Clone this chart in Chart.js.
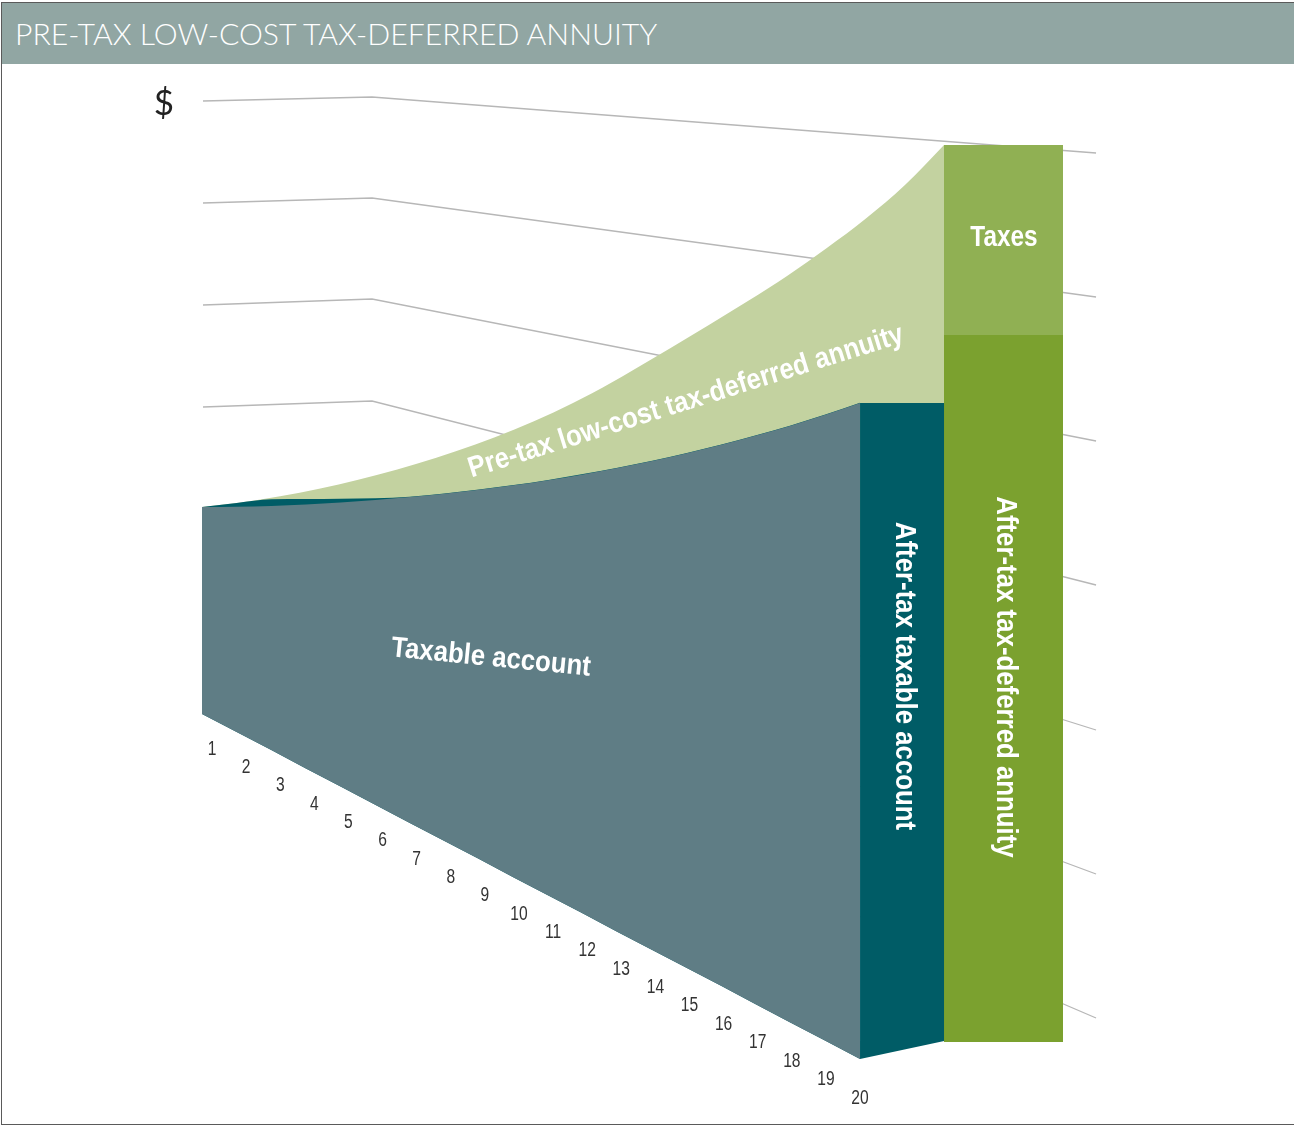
<!DOCTYPE html>
<html>
<head>
<meta charset="utf-8">
<title>Pre-tax low-cost tax-deferred annuity</title>
<style>
  html, body { margin: 0; padding: 0; background: #fff; }
  #figure { position: relative; width: 1294px; height: 1125px; overflow: hidden; }
  #frame { position: absolute; left: 1px; top: 2px; width: 1300px; height: 1121px; border: 1px solid #5a5a5a; box-sizing: content-box; pointer-events: none; }
  #banner { position: absolute; left: 2px; top: 3px; width: 1292px; height: 61px; background: #91a6a3; color: #fff;
            font: 300 30.2px Lato, "Open Sans", sans-serif; line-height: 60px; padding-left: 13px; box-sizing: border-box; white-space: nowrap; }
  canvas { position: absolute; left: 0; top: 0; }
</style>
<script src="https://cdn.jsdelivr.net/npm/chart.js@4"></script>
</head>
<body>
<div id="figure">
  <canvas id="chart" width="1294" height="1125"></canvas>
  <div id="banner">PRE-TAX LOW-COST TAX-DEFERRED ANNUITY</div>
  <div id="frame"></div>
</div>
<script>
// Years along the receding floor of the figure.
const years = [1,2,3,4,5,6,7,8,9,10,11,12,13,14,15,16,17,18,19,20];

// Account balance surfaces, one height per year.
const taxableFaceTop = [618,618.3,619,620.5,622.5,625,628,631.3,635.2,639.7,644.8,650.6,657,664,671.8,680.3,689.5,699.3,710.3,722];
const taxableRidge   = [618,622,625.7,626,626.3,626.7,628.2,631.6,635.5,640,645.1,650.9,657.3,664.3,672.1,680.6,689.8,699.6,710.6,722.3];
const annuityTop     = [618,622.5,628.8,636.3,645.2,655.5,667.2,680.5,695.5,712.5,732,754,777,800.5,824.5,849.5,877,906.5,940,980];
const floorLine      = [411,393,375,356.5,338.4,320.2,302,284,266,247.6,229.5,211.4,193,175,157,139,120.5,102.3,84.2,66];
const annuityUnderlay = 525;

// Year-20 outcome columns.
const taxableBarX      = [20, 22.43];
const taxableBarTop    = [722, 722];
const taxableBarBottom = [66, 84];
const annuityBarX      = [20, 23.05];
const grossTop         = [980, 980];
const afterTaxTop      = [790, 790];
const annuityBarBottom = [83, 83];

// Dollar grid on the back wall: left end, knee, right end.
const gridX     = [1.029, 5.909, 26.815];
const gridLeft  = [1024, 922, 820, 718, 616, 514, 412];
const gridKnee  = [1028, 927, 826, 724, 622, 520, 418];
const gridRight = [972, 828, 684, 540, 395, 251, 107];

const pts = (xs, ys) => xs.map((x, i) => ({ x, y: ys[i] }));
const area = (data, color, fill, xAxisID = 'x', smooth = false) => ({
  data, fill, xAxisID, backgroundColor: color, borderWidth: 0, pointRadius: 0,
  cubicInterpolationMode: smooth ? 'monotone' : 'default', tension: 0
});

const datasets = [
  area(pts(years, taxableFaceTop), '#5f7d85', { target: 1 }, 'x', true),
  area(pts(years, floorLine), 'transparent', false),
  area(pts(years, taxableRidge), '#005c66', { target: 1 }, 'x', true),
  area(pts(taxableBarX, taxableBarTop), '#005c66', { target: 4 }),
  area(pts(taxableBarX, taxableBarBottom), 'transparent', false),
  area(pts(years, annuityTop), '#c3d2a0', { value: annuityUnderlay }, 'xAnnuity', true),
  area(pts(annuityBarX, grossTop), '#90b053', { target: 7 }, 'xAnnuity'),
  area(pts(annuityBarX, afterTaxTop), '#7ba12f', { target: 8 }, 'xAnnuity'),
  area(pts(annuityBarX, annuityBarBottom), 'transparent', false, 'xAnnuity')
];
gridLeft.forEach((left, i) => {
  datasets.push({
    data: pts(gridX, [left, gridKnee[i], gridRight[i]]),
    xAxisID: 'x', fill: false, borderColor: '#b7b7b7', borderWidth: 1.3, pointRadius: 0, tension: 0
  });
});

const SANS = '"Liberation Sans", sans-serif';

// Writes the year numbers beneath the floor edge and the labels on the shapes.
const annotations = {
  id: 'annotations',
  afterDatasetsDraw(chart) {
    const { ctx, scales: { x, y } } = chart;
    const put = (text, px, py, font, color, angle = 0, squeeze = 1) => {
      ctx.save();
      ctx.translate(px, py);
      ctx.rotate(angle * Math.PI / 180);
      ctx.scale(squeeze, 1);
      ctx.font = font;
      ctx.fillStyle = color;
      ctx.textAlign = 'center';
      ctx.textBaseline = 'middle';
      ctx.fillText(text, 0, 0);
      ctx.restore();
    };
    years.forEach((year, i) => {
      const px = x.getPixelForValue(year) + 10 * (19 - i) / 19;
      const py = y.getPixelForValue(floorLine[i]) + 35 + 4 * i / 19;
      put(String(year), px, py, `20px ${SANS}`, '#333', 0, 0.78);
    });
    put('$', 164, 104, '400 35px Lato, sans-serif', '#222');
    const bold = `bold 29px ${SANS}`;
    put('Taxable account', 491, 658, bold, '#fff', 5.6, 0.89);
    put('Pre-tax low-cost tax-deferred annuity', 686, 402, bold, '#fff', -17.4, 0.89);
    put('After-tax taxable account', 904, 676, bold, '#fff', 90, 0.89);
    put('After-tax tax-deferred annuity', 1005, 677, bold, '#fff', 90, 0.89);
    put('Taxes', 1004, 238, bold, '#fff', 0, 0.84);
  }
};

new Chart(document.getElementById('chart'), {
  type: 'line',
  data: { datasets },
  plugins: [annotations],
  options: {
    responsive: false,
    animation: false,
    events: [],
    layout: { padding: 0 },
    plugins: { legend: { display: false }, tooltip: { enabled: false }, title: { display: false } },
    scales: {
      x: { type: 'linear', display: false, min: -4.8327, max: 32.531 },
      xAnnuity: { type: 'linear', display: false, min: -4.1724, max: 28.962 },
      y: { type: 'linear', display: false, min: 0, max: 1125 }
    }
  }
});
</script>
</body>
</html>
